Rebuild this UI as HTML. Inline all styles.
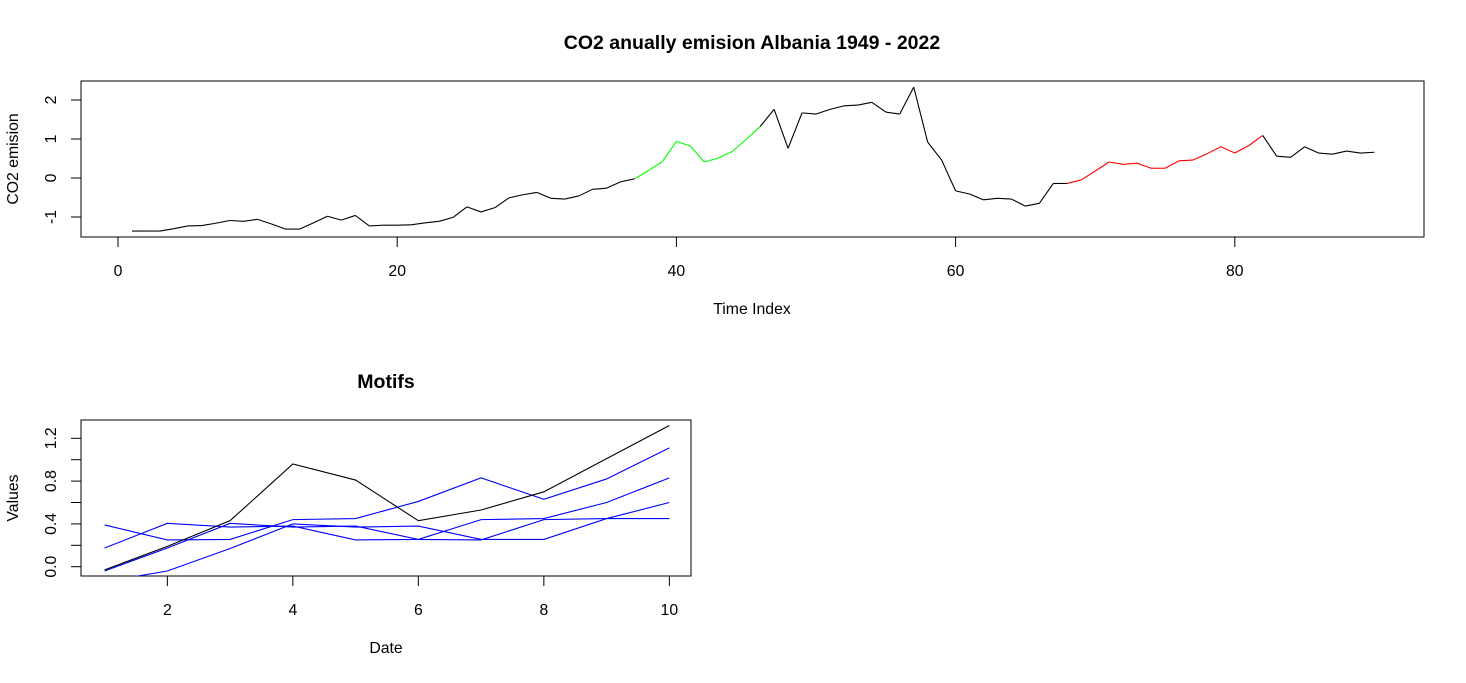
<!DOCTYPE html>
<html><head><meta charset="utf-8"><style>
body{margin:0;background:#fff;}
svg text{font-family:"Liberation Sans",Arial,sans-serif;fill:#000;}
</style></head><body>
<svg id="chart" width="1466" height="678" xmlns="http://www.w3.org/2000/svg">
<defs>
<clipPath id="clipTop"><rect x="81" y="81" width="1343" height="156"/></clipPath>
<clipPath id="clipBot"><rect x="81" y="420" width="610" height="156"/></clipPath>
</defs>
<text x="752" y="49" font-size="19.5" font-weight="bold" text-anchor="middle">CO2 anually emision Albania 1949 - 2022</text>
<rect x="81" y="81" width="1343" height="156" fill="none" stroke="#000"/>
<text x="752" y="314" font-size="15.8" text-anchor="middle">Time Index</text>
<text transform="translate(18,159) rotate(-90)" font-size="15.8" text-anchor="middle">CO2 emision</text>
<g id="topAxes"></g>
<g id="topLines" clip-path="url(#clipTop)"></g>
<text x="386" y="388" font-size="19.5" font-weight="bold" text-anchor="middle">Motifs</text>
<rect x="81" y="420" width="610" height="156" fill="none" stroke="#000"/>
<text x="386" y="653" font-size="15.8" text-anchor="middle">Date</text>
<text transform="translate(18,498) rotate(-90)" font-size="15.8" text-anchor="middle">Values</text>
<g id="botAxes"></g>
<g id="botLines" clip-path="url(#clipBot)"></g>
</svg>
<script>
const series = [-1.36,-1.36,-1.36,-1.30,-1.23,-1.22,-1.16,-1.09,-1.11,-1.06,-1.18,-1.31,-1.31,-1.15,-0.98,-1.08,-0.96,-1.23,-1.21,-1.21,
-1.20,-1.15,-1.11,-1.01,-0.74,-0.87,-0.76,-0.51,-0.43,-0.37,-0.52,-0.54,-0.46,-0.29,-0.26,-0.10,-0.02,0.19,0.42,0.94,
0.82,0.41,0.51,0.68,0.99,1.32,1.76,0.76,1.67,1.64,1.76,1.85,1.87,1.94,1.69,1.64,2.33,0.92,0.46,-0.33,
-0.41,-0.56,-0.52,-0.54,-0.72,-0.65,-0.14,-0.14,-0.05,0.18,0.41,0.35,0.38,0.25,0.25,0.44,0.46,0.62,0.80,0.64,
0.83,1.09,0.56,0.53,0.80,0.64,0.61,0.69,0.64,0.66];
const greenStart = 37, greenEnd = 46;
const redStart = 68, redEnd = 82;
const topXTicks = [0,20,40,60,80];
const topYTicks = [-1,0,1,2];

const motifDates = [1,2,3,4,5,6,7,8,9,10];
const motifQuery = [-0.03,0.19,0.43,0.96,0.81,0.43,0.53,0.70,1.01,1.32];
const motifA = [-0.14,-0.04,0.17,0.40,0.37,0.38,0.255,0.255,0.45,0.45];
const motifB = [-0.04,0.175,0.405,0.37,0.38,0.255,0.25,0.44,0.45,0.60];
const motifC = [0.175,0.405,0.37,0.38,0.25,0.255,0.44,0.45,0.60,0.83];
const motifD = [0.39,0.25,0.255,0.44,0.45,0.61,0.83,0.63,0.82,1.11];
const botXTicks = [2,4,6,8,10];
const botYTicks = [0,0.2,0.4,0.6,0.8,1.0,1.2];
const botYLabels = ["0.0","","0.4","","0.8","","1.2"];

const NS="http://www.w3.org/2000/svg";
function mk(tag, attrs, parent){const e=document.createElementNS(NS,tag);for(const k in attrs)e.setAttribute(k,attrs[k]);parent.appendChild(e);return e;}
const tx = v => 118 + v*13.96;
const ty = v => 178 - v*39;
const bx = v => 104.6 + (v-1)*62.75;
const by = v => 566.7 - v*107;

const topAxes=document.getElementById('topAxes');
topXTicks.forEach(t=>{
  const l=mk('line',{x1:tx(t),x2:tx(t),y1:237,y2:247,stroke:'#000'},topAxes);
  
  
  const s=mk('text',{x:tx(t),y:276,'font-size':15.8,'text-anchor':'middle'},topAxes);
  s.textContent=t;
  
  
});
topYTicks.forEach(t=>{
  const l=mk('line',{x1:71,x2:81,y1:ty(t),y2:ty(t),stroke:'#000'},topAxes);
  
  
  const s=mk('text',{transform:`translate(56,${ty(t)}) rotate(-90)`,'font-size':15.8,'text-anchor':'middle'},topAxes);
  s.textContent=t;
  
  
});
const topLines=document.getElementById('topLines');
for(let i=0;i<series.length-1;i++){
  const a=i+1,b=i+2;
  let c='#000';
  if(a>=greenStart&&b<=greenEnd)c='#00ff00';
  else if(a>=redStart&&b<=redEnd)c='#ff0000';
  const l=mk('line',{x1:tx(a),y1:ty(series[i]),x2:tx(b),y2:ty(series[i+1]),stroke:c,'stroke-width':1.1},topLines);
  
  
}

const botAxes=document.getElementById('botAxes');
botXTicks.forEach(t=>{
  const l=mk('line',{x1:bx(t),x2:bx(t),y1:576,y2:586,stroke:'#000'},botAxes);
  
  
  const s=mk('text',{x:bx(t),y:615,'font-size':15.8,'text-anchor':'middle'},botAxes);
  s.textContent=t;
  
  
});
botYTicks.forEach((t,i)=>{
  const l=mk('line',{x1:71,x2:81,y1:by(t),y2:by(t),stroke:'#000'},botAxes);
  
  
  if(botYLabels[i]){
    const s=mk('text',{transform:`translate(56,${by(t)}) rotate(-90)`,'font-size':15.8,'text-anchor':'middle'},botAxes);
    s.textContent=botYLabels[i];
    
    
  }
});
const botLines=document.getElementById('botLines');
function drawMotif(vals,color,name){
  const p=mk('polyline',{points:vals.map((v,i)=>bx(motifDates[i])+','+by(v)).join(' '),fill:'none',stroke:color,'stroke-width':1.1},botLines);
  
  
}
drawMotif(motifA,'#0000ff','motif-match-1');
drawMotif(motifB,'#0000ff','motif-match-2');
drawMotif(motifC,'#0000ff','motif-match-3');
drawMotif(motifD,'#0000ff','motif-match-4');
drawMotif(motifQuery,'#000000','motif-query');
</script>
</body></html>
